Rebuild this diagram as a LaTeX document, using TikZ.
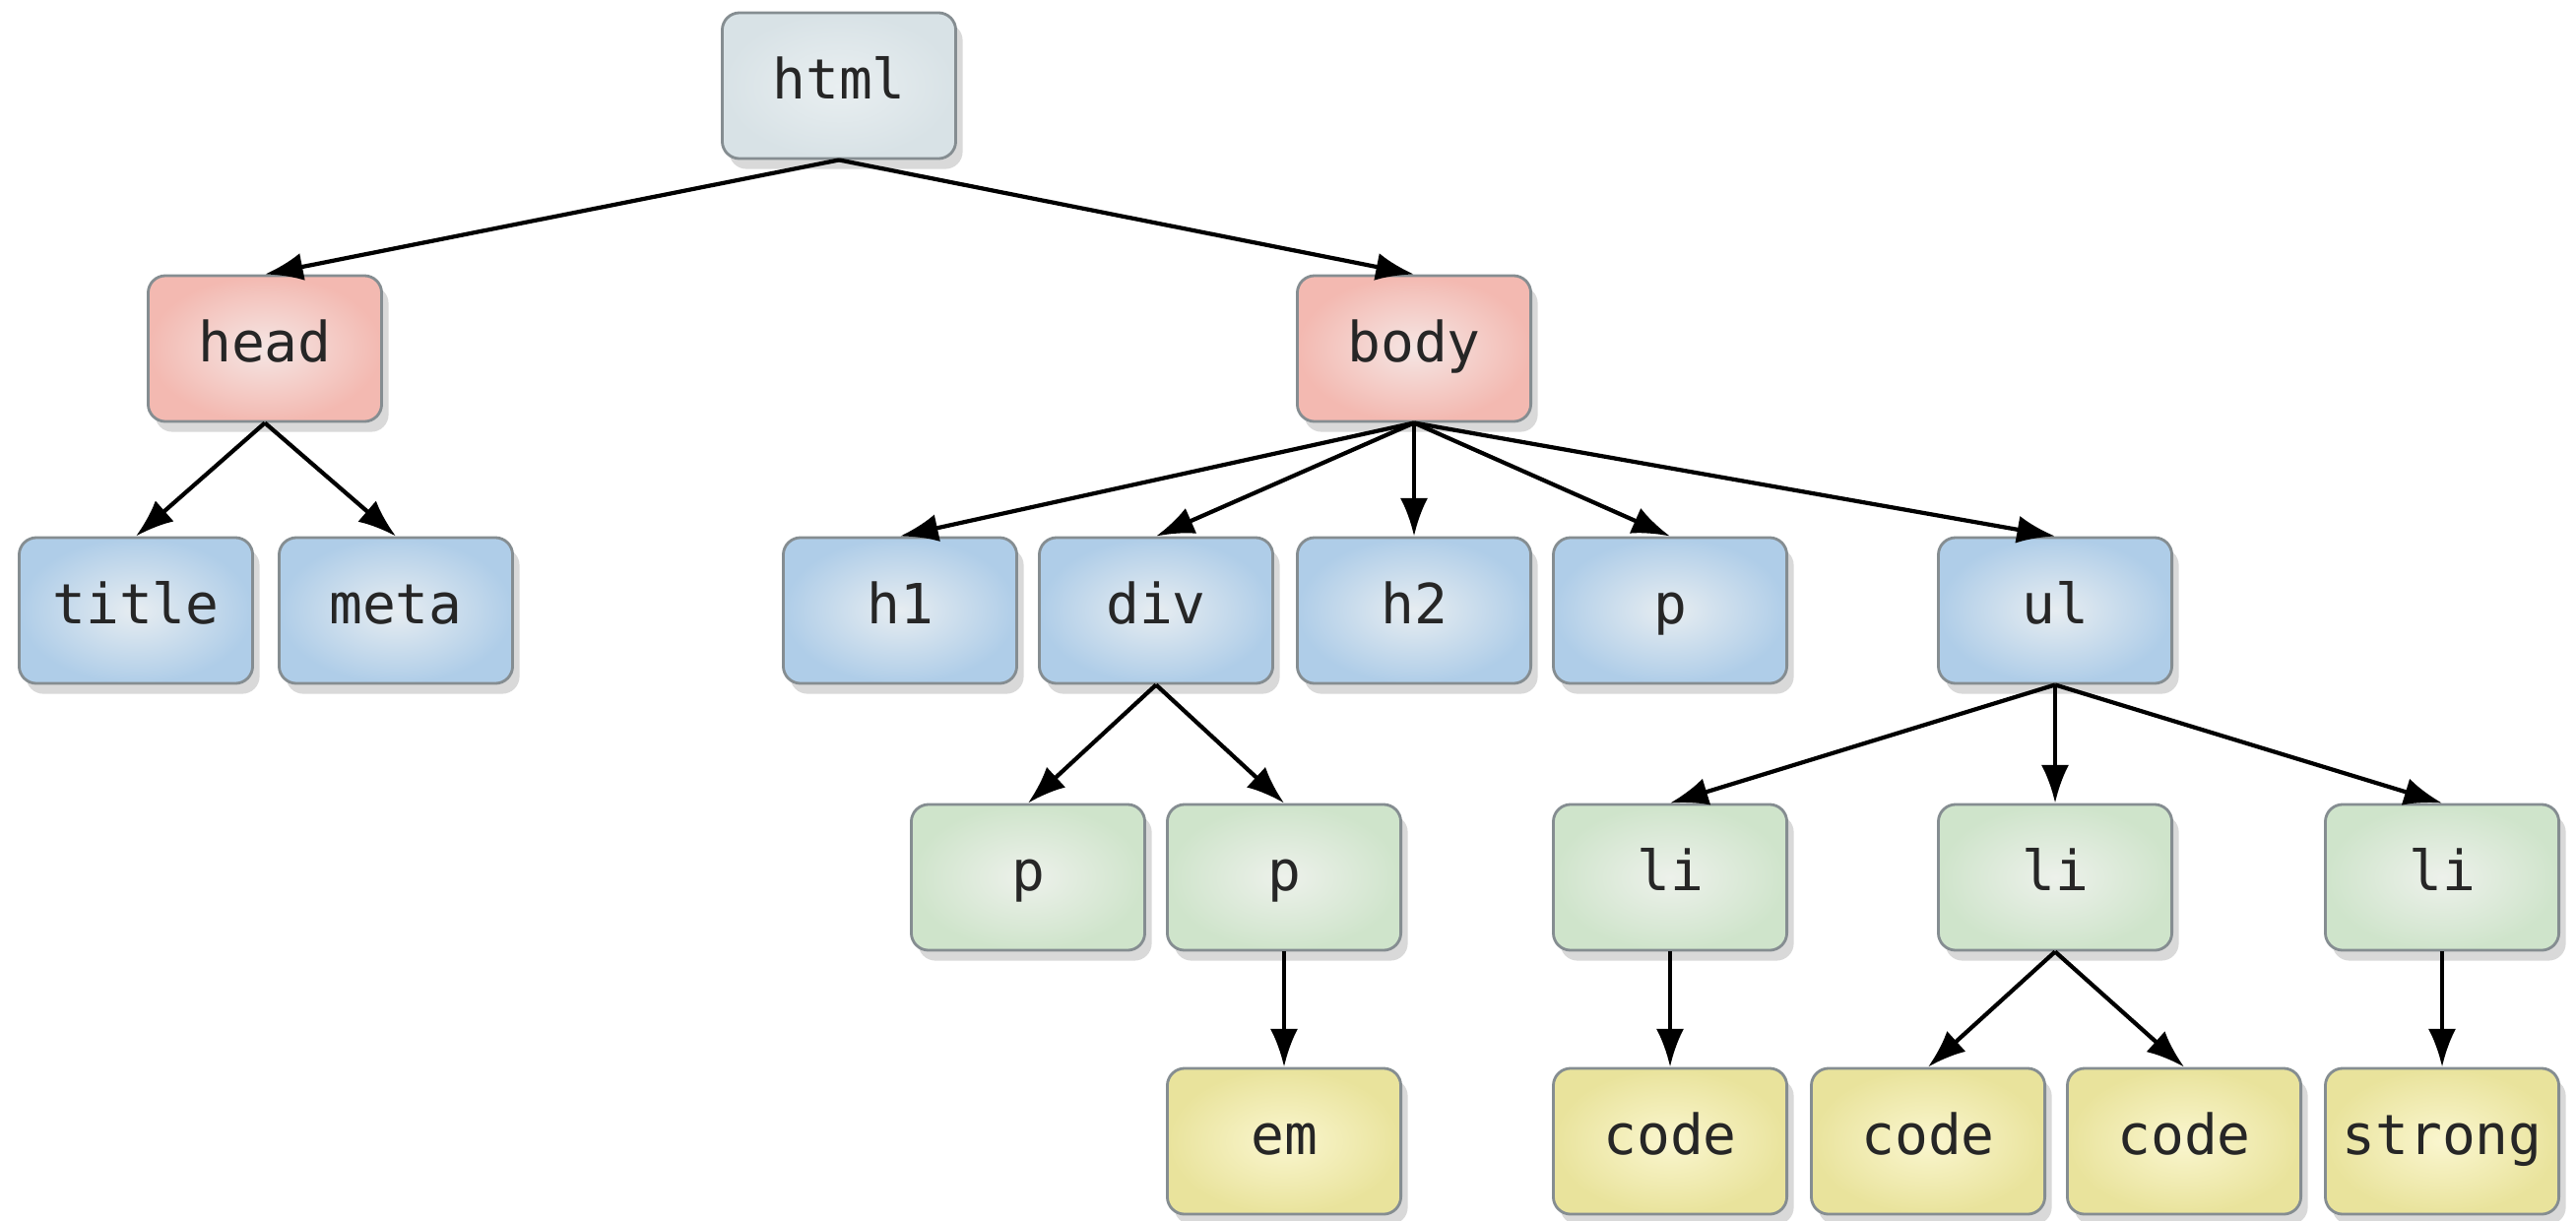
\documentclass[tikz,border=0pt]{standalone}
\usepackage{fontspec}
\setmonofont{DejaVu Sans Mono}
\usepackage{tikz}
\usetikzlibrary{arrows.meta,shadows}
\definecolor{boxline}{HTML}{858D91}
\definecolor{rootout}{HTML}{D8E2E6}
\definecolor{rootin}{HTML}{E9EFF1}
\definecolor{redout}{HTML}{F3B9B1}
\definecolor{redin}{HTML}{F5E6E4}
\definecolor{blueout}{HTML}{AFCDE8}
\definecolor{bluein}{HTML}{E7EDF1}
\definecolor{greenout}{HTML}{CFE4CB}
\definecolor{greenin}{HTML}{EDF1EB}
\definecolor{yellowout}{HTML}{E9E39C}
\definecolor{yellowin}{HTML}{FAF6CF}

\begin{document}
\begin{tikzpicture}[x=0.01cm,y=-0.01cm,
    box/.style={draw=boxline, line width=0.8pt, rounded corners=5pt,
      minimum width=2.37cm, minimum height=1.48cm, shading=radial,
      text height=2ex, text depth=0.2ex,
      font=\ttfamily\fontsize{16}{16}\selectfont, text=black!85,
      drop shadow={shadow xshift=2pt, shadow yshift=-3pt, opacity=0.3}},
    rootbox/.style={box, inner color=rootin, outer color=rootout},
    redbox/.style={box, inner color=redin, outer color=redout},
    bluebox/.style={box, inner color=bluein, outer color=blueout},
    greenbox/.style={box, inner color=greenin, outer color=greenout},
    yellowbox/.style={box, inner color=yellowin, outer color=yellowout},
    edge/.style={-{Latex[length=11pt,width=8pt]}, line width=1.2pt}]
    \useasboundingbox (0,0) rectangle (2616,1239);

    % root
    \node[rootbox] (html) at (852,87) {html};

    % head and body
    \node[redbox] (head) at (269,354) {head};
    \node[redbox] (body) at (1436,354) {body};

    % children of head and body
    \node[bluebox] (title) at (138,620) {title};
    \node[bluebox] (meta) at (402,620) {meta};
    \node[bluebox] (h1) at (914,620) {h1};
    \node[bluebox] (div) at (1174,620) {div};
    \node[bluebox] (h2) at (1436,620) {h2};
    \node[bluebox] (p) at (1696,620) {p};
    \node[bluebox] (ul) at (2087,620) {ul};

    % third level
    \node[greenbox] (pa) at (1044,891) {p};
    \node[greenbox] (pb) at (1304,891) {p};
    \node[greenbox] (lia) at (1696,891) {li};
    \node[greenbox] (lib) at (2087,891) {li};
    \node[greenbox] (lic) at (2480,891) {li};

    % leaves
    \node[yellowbox] (em) at (1304,1159) {em};
    \node[yellowbox] (codea) at (1696,1159) {code};
    \node[yellowbox] (codeb) at (1958,1159) {code};
    \node[yellowbox] (codec) at (2218,1159) {code};
    \node[yellowbox] (strong) at (2480,1159) {strong};

    % edges
    \draw[edge] (html.south) -- (head.north);
    \draw[edge] (html.south) -- (body.north);
    \draw[edge] (head.south) -- (title.north);
    \draw[edge] (head.south) -- (meta.north);
    \foreach \c in {h1,div,h2,p,ul}
        \draw[edge] (body.south) -- (\c.north);
    \draw[edge] (div.south) -- (pa.north);
    \draw[edge] (div.south) -- (pb.north);
    \draw[edge] (pb.south) -- (em.north);
    \foreach \c in {lia,lib,lic}
        \draw[edge] (ul.south) -- (\c.north);
    \draw[edge] (lia.south) -- (codea.north);
    \draw[edge] (lib.south) -- (codeb.north);
    \draw[edge] (lib.south) -- (codec.north);
    \draw[edge] (lic.south) -- (strong.north);
\end{tikzpicture}
\end{document}
